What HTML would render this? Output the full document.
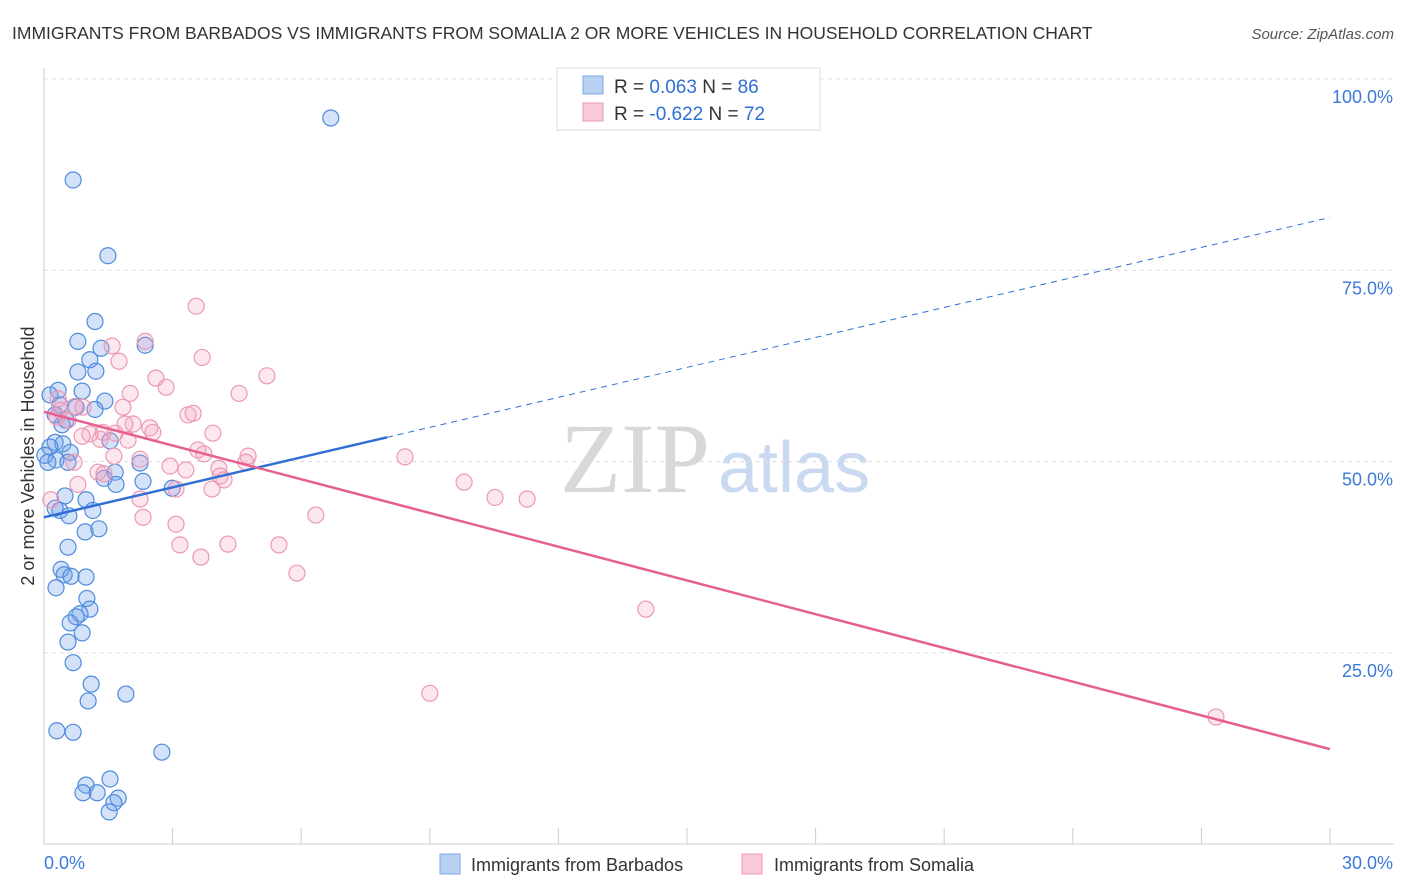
<!DOCTYPE html>
<html><head><meta charset="utf-8"><style>
body{margin:0;background:#fff;font-family:"Liberation Sans",sans-serif;}
#wrap{position:relative;width:1406px;height:892px;overflow:hidden;}
</style></head><body>
<div id="wrap">
<svg id="svg" width="1406" height="892" xmlns="http://www.w3.org/2000/svg">
<text x="12" y="39" font-size="17.5" fill="#333">IMMIGRANTS FROM BARBADOS VS IMMIGRANTS FROM SOMALIA 2 OR MORE VEHICLES IN HOUSEHOLD CORRELATION CHART</text>
<text x="1394" y="39" font-size="15" fill="#555" font-style="italic" text-anchor="end">Source: ZipAtlas.com</text>
<text x="560" y="492" font-size="100" fill="#d8d8d8" font-family="Liberation Serif,serif">ZIP</text>
<text x="718" y="492" font-size="72" fill="#c9d9f0">atlas</text>
<text transform="translate(34,456) rotate(-90)" font-size="18" fill="#333" text-anchor="middle">2 or more Vehicles in Household</text>
<g id="grid"></g><g id="marks"></g>
<g>
<rect x="557" y="68" width="263" height="62" fill="#fff" stroke="#ddd"/>
<rect x="583" y="76" width="20" height="18" fill="#b8d1f3" stroke="#7aa7e5"/>
<rect x="583" y="103" width="20" height="18" fill="#f9c9d7" stroke="#ee9cb6"/>
<text x="614" y="93" font-size="19" fill="#333">R =  <tspan fill="#2f6fd6">0.063</tspan>   N = <tspan fill="#2f6fd6">86</tspan></text>
<text x="614" y="120" font-size="19" fill="#333">R = <tspan fill="#2f6fd6">-0.622</tspan>   N = <tspan fill="#2f6fd6">72</tspan></text>
</g>
<g>
<rect x="440" y="854" width="20" height="20" fill="#b8d1f3" stroke="#7aa7e5"/>
<text x="471" y="871" font-size="18" fill="#333">Immigrants from Barbados</text>
<rect x="742" y="854" width="20" height="20" fill="#f9c9d7" stroke="#ee9cb6"/>
<text x="774" y="871" font-size="18" fill="#333">Immigrants from Somalia</text>
</g>
</svg>
</div>
<script>
const blueX=[6.69,0.68,1.49,1.19,0.79,2.36,1.33,1.07,0.79,1.21,0.33,0.89,0.14,1.42,0.37,0.75,1.19,0.26,0.51,0.42,1.54,0.26,0.44,0.14,0.61,0.02,0.28,0.09,0.56,2.24,1.66,1.40,1.68,2.31,2.99,0.49,0.98,0.37,0.26,1.14,0.58,0.96,1.28,0.56,0.40,0.47,0.63,0.98,0.28,1.00,1.07,0.84,0.75,0.61,0.89,0.56,0.68,1.10,1.03,1.91,0.30,0.68,2.75,1.54,0.98,0.91,1.24,1.73,1.63,1.52];
const blueY=[94.9,86.8,76.9,68.3,65.7,65.2,64.8,63.3,61.7,61.8,59.3,59.2,58.7,57.9,57.4,57.1,56.8,56.1,55.4,54.8,52.7,52.5,52.3,51.9,51.2,50.8,50.2,49.9,49.9,49.8,48.6,47.8,47.0,47.4,46.5,45.5,45.0,43.6,43.9,43.6,42.9,40.8,41.2,38.8,35.9,35.2,35.0,34.9,33.5,32.1,30.7,30.1,29.7,28.9,27.6,26.4,23.7,20.9,18.7,19.6,14.8,14.6,12.0,8.5,7.7,6.7,6.7,6.0,5.4,4.2];
const pinkX=[3.55,2.36,1.59,3.69,1.75,5.20,2.61,2.85,2.01,4.55,0.33,0.72,1.84,3.36,3.48,0.56,0.30,1.89,2.08,2.47,1.38,1.07,0.89,1.66,3.94,2.54,1.96,1.31,3.59,3.73,1.63,4.76,0.70,4.71,2.24,2.94,3.31,4.08,1.26,1.40,4.11,4.20,8.42,9.80,10.52,11.27,3.08,3.92,2.24,0.16,0.79,2.31,6.34,3.08,3.17,4.29,5.48,3.66,5.90,14.04,9.00,27.34,0.37,0.91];
const pinkY=[70.3,65.7,65.1,63.6,63.1,61.2,60.9,59.7,58.9,58.9,58.2,57.2,57.1,56.1,56.3,55.4,55.8,54.9,54.9,54.4,53.8,53.6,53.3,53.7,53.7,53.8,52.8,52.9,51.5,51.0,50.7,50.7,49.9,49.9,50.3,49.4,48.9,49.1,48.6,48.4,48.1,47.6,50.6,47.3,45.3,45.1,46.4,46.4,45.1,45.0,47.0,42.7,43.0,41.8,39.1,39.2,39.1,37.5,35.4,30.7,19.7,16.6,56.7,57.1];
const blueTrend=[42.7,81.9];
const pinkTrend=[56.5,12.4];
const yTicks=[25,50,75,100];
const NS="http://www.w3.org/2000/svg";
const X0=44,X1=1330,Y0=844,Y1=79;
const sx=v=>X0+(v/30)*(X1-X0);
const sy=v=>Y0-(v/100)*(Y0-Y1);
function mk(tag,attrs,parent){const e=document.createElementNS(NS,tag);for(const k in attrs)e.setAttribute(k,attrs[k]);parent.appendChild(e);return e;}
const grid=document.getElementById('grid'),marks=document.getElementById('marks');
yTicks.forEach(t=>{
 const l=mk('line',{x1:X0,x2:1394,y1:sy(t),y2:sy(t),stroke:'#ddd','stroke-dasharray':'4,4'},grid);
 
 
 const tx=mk('text',{x:1393,y:sy(t)+24,'font-size':18,fill:'#3b7ad8','text-anchor':'end'},grid);
 tx.textContent=t.toFixed(1)+'%';
 
 
});
const ax=mk('line',{x1:X0,x2:1394,y1:Y0,y2:Y0,stroke:'#ccc'},grid);


const ay=mk('line',{x1:X0,x2:X0,y1:68,y2:Y0,stroke:'#ccc'},grid);


for(let i=1;i<=10;i++){const x=X0+i*128.6;const tk=mk('line',{x1:x,x2:x,y1:Y0,y2:Y0-16,stroke:'#ccc'},grid);
 
 }
const xl=mk('text',{x:44,y:869,'font-size':18,fill:'#3b7ad8'},grid);xl.textContent='0.0%';


const xr=mk('text',{x:1393,y:869,'font-size':18,fill:'#3b7ad8','text-anchor':'end'},grid);xr.textContent='30.0%';


blueX.forEach((v,i)=>{const c=mk('circle',{cx:sx(v),cy:sy(blueY[i]),r:8,fill:'rgba(110,160,235,0.3)',stroke:'#4f8bdc','stroke-width':1.2},marks);
 
 });
pinkX.forEach((v,i)=>{const c=mk('circle',{cx:sx(v),cy:sy(pinkY[i]),r:8,fill:'rgba(245,160,190,0.25)',stroke:'#ec98b4','stroke-width':1.2},marks);
 
 });
const bAt=x=>blueTrend[0]+(blueTrend[1]-blueTrend[0])*x/30;
const ts=mk('line',{x1:sx(0),y1:sy(bAt(0)),x2:sx(8),y2:sy(bAt(8)),stroke:'#2f6fd6','stroke-width':2.5},marks);


const td=mk('line',{x1:sx(8),y1:sy(bAt(8)),x2:sx(30),y2:sy(bAt(30)),stroke:'#2f6fd6','stroke-width':1,'stroke-dasharray':'6,5'},marks);


const tp=mk('line',{x1:sx(0),y1:sy(pinkTrend[0]),x2:sx(30),y2:sy(pinkTrend[1]),stroke:'#e5608e','stroke-width':2.5},marks);


</script>
</body></html>
